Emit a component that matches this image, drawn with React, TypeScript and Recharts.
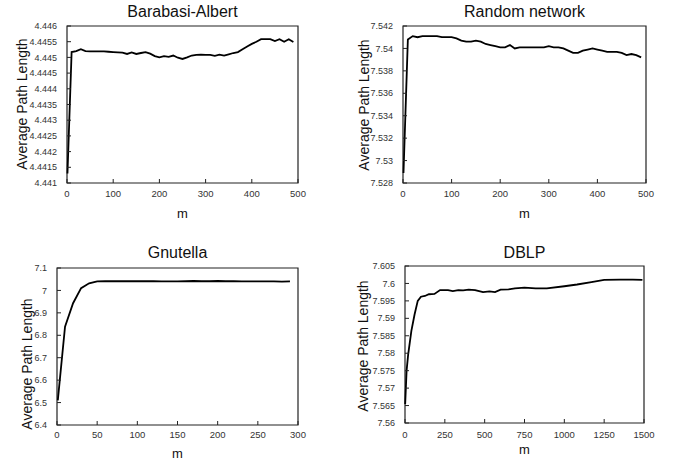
import { LineChart, Line, XAxis, YAxis, ReferenceArea } from "recharts";

// Barabasi-Albert
const baM = [1, 10, 20, 30, 40, 50, 60, 70, 80, 90, 100, 110, 120, 130, 140, 150, 160, 170, 180, 190, 200, 210, 220, 230, 240, 250, 260, 270, 280, 290, 300, 310, 320, 330, 340, 350, 360, 370, 380, 390, 400, 410, 420, 430, 440, 450, 460, 470, 480, 490];
const baApl = [4.4413, 4.44517, 4.4452, 4.44526, 4.4452, 4.44519, 4.44519, 4.44519, 4.44519, 4.44518, 4.44517, 4.44516, 4.44515, 4.44511, 4.44516, 4.44511, 4.44514, 4.44517, 4.44512, 4.44504, 4.445, 4.44504, 4.44502, 4.44506, 4.44499, 4.44495, 4.445, 4.44506, 4.44508, 4.44509, 4.44508, 4.44508, 4.44505, 4.44509, 4.44506, 4.4451, 4.44514, 4.44517, 4.44526, 4.44535, 4.44543, 4.4455, 4.44558, 4.44558, 4.44558, 4.44552, 4.44558, 4.4455, 4.44558, 4.44549];
const baTicksX = [0, 100, 200, 300, 400, 500];
const baTicksY = [4.441, 4.4415, 4.442, 4.4425, 4.443, 4.4435, 4.444, 4.4445, 4.445, 4.4455, 4.446];

// Random network
const rnM = [1, 10, 20, 30, 40, 50, 60, 70, 80, 90, 100, 110, 120, 130, 140, 150, 160, 170, 180, 190, 200, 210, 220, 230, 240, 250, 260, 270, 280, 290, 300, 310, 320, 330, 340, 350, 360, 370, 380, 390, 400, 410, 420, 430, 440, 450, 460, 470, 480, 490];
const rnApl = [7.5289, 7.5408, 7.5411, 7.541, 7.5411, 7.5411, 7.5411, 7.5411, 7.541, 7.541, 7.541, 7.5409, 7.5407, 7.5406, 7.5406, 7.5407, 7.5406, 7.5404, 7.5403, 7.5402, 7.5401, 7.5401, 7.5403, 7.54, 7.5401, 7.5401, 7.5401, 7.5401, 7.5401, 7.5401, 7.5402, 7.5401, 7.5401, 7.54, 7.5398, 7.5396, 7.5396, 7.5398, 7.5399, 7.54, 7.5399, 7.5398, 7.5397, 7.5397, 7.5397, 7.5396, 7.5394, 7.5395, 7.5394, 7.5392];
const rnTicksX = [0, 100, 200, 300, 400, 500];
const rnTicksY = [7.528, 7.53, 7.532, 7.534, 7.536, 7.538, 7.54, 7.542];

// Gnutella
const gnM = [1, 10, 20, 30, 40, 50, 60, 70, 80, 90, 100, 110, 120, 130, 140, 150, 160, 170, 180, 190, 200, 210, 220, 230, 240, 250, 260, 270, 280, 290];
const gnApl = [6.51, 6.838, 6.943, 7.01, 7.032, 7.04, 7.041, 7.041, 7.041, 7.041, 7.041, 7.041, 7.041, 7.04, 7.04, 7.04, 7.041, 7.042, 7.041, 7.041, 7.042, 7.041, 7.041, 7.04, 7.04, 7.04, 7.04, 7.04, 7.039, 7.04];
const gnTicksX = [0, 50, 100, 150, 200, 250, 300];
const gnTicksY = [6.4, 6.5, 6.6, 6.7, 6.8, 6.9, 7, 7.1];

// DBLP
const dbM = [1, 10, 20, 40, 60, 80, 100, 125, 150, 185, 220, 270, 300, 335, 365, 400, 440, 490, 530, 565, 600, 650, 690, 750, 820, 890, 1000, 1080, 1170, 1250, 1350, 1430, 1490];
const dbApl = [7.5654, 7.575, 7.5797, 7.5864, 7.5911, 7.595, 7.5962, 7.5964, 7.5969, 7.597, 7.5981, 7.5981, 7.5978, 7.5981, 7.598, 7.5982, 7.5981, 7.5975, 7.5977, 7.5975, 7.5982, 7.5983, 7.5986, 7.5988, 7.5986, 7.5986, 7.5992, 7.5997, 7.6004, 7.601, 7.6011, 7.6011, 7.601];
const dbTicksX = [0, 250, 500, 750, 1000, 1250, 1500];
const dbTicksY = [7.56, 7.565, 7.57, 7.575, 7.58, 7.585, 7.59, 7.595, 7.6, 7.605];

const zip = (ms: number[], vs: number[]) => ms.map((m, i) => ({ m, apl: vs[i] }));

const FONT = '"Liberation Sans", Arial, sans-serif';
const INK = "#222";
const W = 338;
const H = 233;

type Rect = { x1: number; y1: number; x2: number; y2: number };

function Panel({
  left,
  top,
  plot,
  data,
  xTicks,
  yTicks,
  title,
  titleY,
  mY,
  yLabelX,
  yLabelY,
  xGap = 7,
}: {
  left: number;
  top: number;
  plot: Rect;
  data: { m: number; apl: number }[];
  xTicks: number[];
  yTicks: number[];
  title: string;
  titleY: number;
  mY: number;
  yLabelX: number;
  yLabelY: number;
  xGap?: number;
}) {
  const yAxisW = 40;
  const xAxisH = 24;
  const yGap = 10;
  const margin = {
    left: plot.x1 - left - yAxisW,
    right: left + W - plot.x2,
    top: plot.y1 - top,
    bottom: top + H - plot.y2 - xAxisH,
  };
  const xDom = [xTicks[0], xTicks[xTicks.length - 1]];
  const yDom = [yTicks[0], yTicks[yTicks.length - 1]];
  const cx = (plot.x1 + plot.x2) / 2;

  const yTick = (p: any) => (
    <g>
      <line x1={p.x + yGap} x2={p.x + yGap + 4} y1={p.y} y2={p.y} stroke={INK} strokeWidth={1} />
      <text x={p.x} y={p.y} dy="0.35em" textAnchor="end" fontSize={9} fontFamily={FONT} fill="#333">
        {p.payload.value}
      </text>
    </g>
  );
  const xTick = (p: any) => (
    <g>
      <line x1={p.x} x2={p.x} y1={p.y - xGap} y2={p.y - xGap - 4} stroke={INK} strokeWidth={1} />
      <text x={p.x} y={p.y} dy="0.71em" textAnchor="middle" fontSize={9.5} fontFamily={FONT} fill="#333">
        {p.payload.value}
      </text>
    </g>
  );

  const txt = { position: "absolute" as const, fontFamily: FONT, color: "#111", whiteSpace: "nowrap" as const, lineHeight: 1 };

  return (
    <>
      <div style={{ position: "absolute", left, top, width: W, height: H }}>
        <LineChart width={W} height={H} data={data} margin={margin}>
          <XAxis
            dataKey="m"
            type="number"
            domain={xDom}
            ticks={xTicks}
            interval={0}
            height={xAxisH}
            axisLine={false}
            tickLine={false}
            tickSize={0}
            tickMargin={xGap}
            tick={xTick}
          />
          <YAxis
            type="number"
            domain={yDom}
            ticks={yTicks}
            interval={0}
            width={yAxisW}
            axisLine={false}
            tickLine={false}
            tickSize={0}
            tickMargin={yGap}
            tick={yTick}
          />
          <ReferenceArea x1={xDom[0]} x2={xDom[1]} y1={yDom[0]} y2={yDom[1]} stroke={INK} strokeWidth={1.2} fill="none" fillOpacity={0} />
          <Line type="linear" dataKey="apl" stroke="#000" strokeWidth={1.8} dot={false} isAnimationActive={false} />
        </LineChart>
      </div>
      <div style={{ ...txt, left: cx, top: titleY, fontSize: 16, transform: "translate(-50%, -50%)" }}>{title}</div>
      <div style={{ ...txt, left: cx, top: mY, fontSize: 13, transform: "translate(-50%, -50%)" }}>m</div>
      <div style={{ ...txt, left: yLabelX, top: yLabelY, fontSize: 14, transform: "translate(-50%, -50%) rotate(-90deg)" }}>
        Average Path Length
      </div>
    </>
  );
}

export default function App() {
  return (
    <div style={{ position: "absolute", left: 0, top: 0, width: 676, height: 466, background: "#fff", overflow: "hidden" }}>
      <Panel
        left={0}
        top={0}
        plot={{ x1: 67, y1: 26, x2: 298, y2: 183 }}
        data={zip(baM, baApl)}
        xTicks={baTicksX}
        yTicks={baTicksY}
        title="Barabasi-Albert"
        titleY={12}
        mY={213}
        yLabelX={22}
        yLabelY={104}
      />
      <Panel
        left={338}
        top={0}
        plot={{ x1: 403, y1: 26, x2: 646, y2: 183 }}
        data={zip(rnM, rnApl)}
        xTicks={rnTicksX}
        yTicks={rnTicksY}
        title="Random network"
        titleY={12}
        mY={213}
        yLabelX={364}
        yLabelY={105}
      />
      <Panel
        left={0}
        top={233}
        plot={{ x1: 57, y1: 268, x2: 298, y2: 425 }}
        data={zip(gnM, gnApl)}
        xTicks={gnTicksX}
        yTicks={gnTicksY}
        title="Gnutella"
        titleY={253}
        mY={453}
        yLabelX={27}
        yLabelY={364}
        xGap={6}
      />
      <Panel
        left={338}
        top={233}
        plot={{ x1: 405, y1: 266, x2: 644, y2: 423 }}
        data={zip(dbM, dbApl)}
        xTicks={dbTicksX}
        yTicks={dbTicksY}
        title="DBLP"
        titleY={253}
        mY={449}
        yLabelX={363}
        yLabelY={346}
        xGap={8}
      />
    </div>
  );
}
